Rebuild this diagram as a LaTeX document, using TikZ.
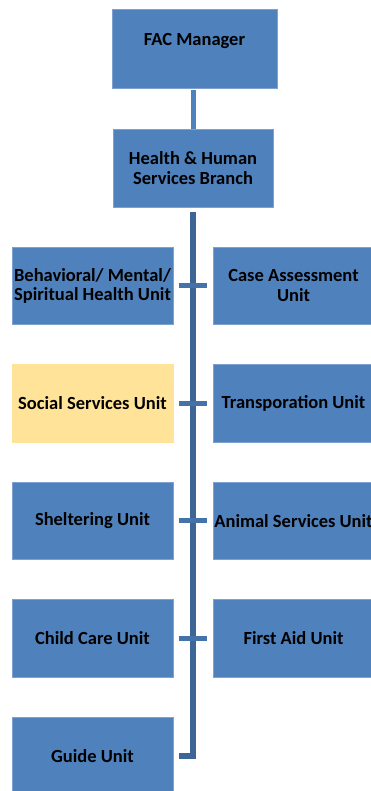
\documentclass[tikz,border=0pt]{standalone}
\usepackage{fontspec}
\setmainfont{Carlito}

\definecolor{boxblue}{HTML}{4F81BD}
\definecolor{boxedge}{HTML}{7FA1D2}
\definecolor{spineblue}{HTML}{3D6595}
\definecolor{stubblue}{HTML}{4672AA}
\definecolor{boxyellow}{HTML}{FFE399}

\tikzset{
  unit/.style={rectangle, fill=boxblue, draw=boxedge, line width=0.6pt,
    minimum width=161pt, minimum height=77.5pt, inner sep=0pt,
    align=center, font=\fontsize{18.5}{19.5}\selectfont\bfseries},
  spine/.style={draw=spineblue, line width=5.5pt},
  stub/.style={draw=stubblue, line width=5pt, shorten <=5.3pt, shorten >=5.3pt}
}

\begin{document}
\begin{tikzpicture}[x=1pt, y=-1pt]
  \useasboundingbox (0,0) rectangle (371,791);

  % Top boxes
  \node[unit, minimum width=165pt, minimum height=78.5pt, text depth=19pt] (mgr) at (194.5,49) {FAC Manager};
  \node[unit, minimum width=160pt, minimum height=78pt] (hhs) at (193,168) {Health \& Human\\Services Branch};

  % Units
  \node[unit] (bhu) at (92.5,285.75) {Behavioral/ Mental/\\Spiritual Health Unit};
  \node[unit] (cau) at (293.5,285.75) {Case Assessment\\Unit};
  \node[unit, fill=boxyellow, draw=boxyellow] (ssu) at (92.5,403.25) {Social Services Unit};
  \node[unit] (tru) at (293.5,403.25) {Transporation Unit};
  \node[unit] (shu) at (92.5,520.75) {Sheltering Unit};
  \node[unit] (asu) at (293.5,520.75) {Animal Services Unit};
  \node[unit] (ccu) at (92.5,638.25) {Child Care Unit};
  \node[unit] (fau) at (293.5,638.25) {First Aid Unit};
  \node[unit] (gdu) at (92.5,755.75) {Guide Unit};

  % Manager to branch
  \draw[stub, draw=boxblue, shorten <=1.5pt, shorten >=0pt] (hhs.north |- mgr.south) -- (hhs.north);

  % Branch spine
  \draw[spine, shorten >=5.3pt] ([yshift=-5pt]hhs.south) |- (gdu.east);

  % Stubs
  \draw[stub] (bhu.east) -- (cau.west);
  \draw[stub] (ssu.east) -- (tru.west);
  \draw[stub] (shu.east) -- (asu.west);
  \draw[stub] (ccu.east) -- (fau.west);

\end{tikzpicture}
\end{document}
